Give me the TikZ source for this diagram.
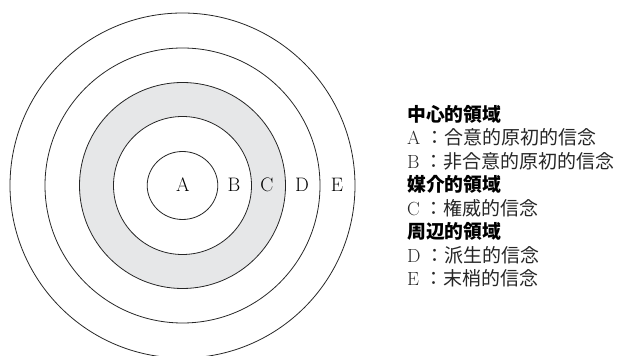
\documentclass[tikz,border=0pt]{standalone}
\usepackage{fontspec}
\newfontfamily\cjk{Noto Sans CJK JP}
\definecolor{ringgray}{HTML}{E6E7E8}
\begin{document}
\begin{tikzpicture}[x=1pt,y=1pt,
  ring/.style={draw=black!85,line width=0.8pt},
  lab/.style={inner sep=0pt,font=\fontsize{19.5}{20}\selectfont},
  head/.style={anchor=west,inner sep=0pt,font=\fontsize{18.8}{19}\selectfont\cjk\bfseries},
  item/.style={anchor=west,inner sep=0pt,text=black!85,font=\fontsize{19}{19}\selectfont}]
\useasboundingbox (0,0) rectangle (622,356);
\clip (0,0) rectangle (622,356);
\coordinate (O) at (182.5,170.5);
\fill[ringgray] (O) circle (103);
\fill[white] (O) circle (69);
\draw[ring] (O) ellipse (35.3 and 34);
\foreach \r in {69,103,137.5,172.5} \draw[ring] (O) circle (\r);
\node[lab] (la) at (183,171) {A};
\node[lab] (lb) at (234,171) {B};
\node[lab] (lc) at (267,171) {C};
\node[lab] (ld) at (302,171) {D};
\node[lab] (le) at (337,171) {E};
\node[head] (h1) at (407,242) {中心的領域};
\node[item] (ia) at (407,218.3) {A\hspace{5pt}{\cjk ：合意的原初的信念}};
\node[item] (ib) at (407,194.3) {B\hspace{5pt}{\cjk ：非合意的原初的信念}};
\node[head] (h2) at (407,171.7) {媒介的領域};
\node[item] (ic) at (407,147.7) {C\hspace{5pt}{\cjk ：権威的信念}};
\node[head] (h3) at (407,124.3) {周辺的領域};
\node[item] (id) at (407,101) {D\hspace{5pt}{\cjk ：派生的信念}};
\node[item] (ie) at (407,77.7) {E\hspace{5pt}{\cjk ：末梢的信念}};
\end{tikzpicture}
\end{document}
